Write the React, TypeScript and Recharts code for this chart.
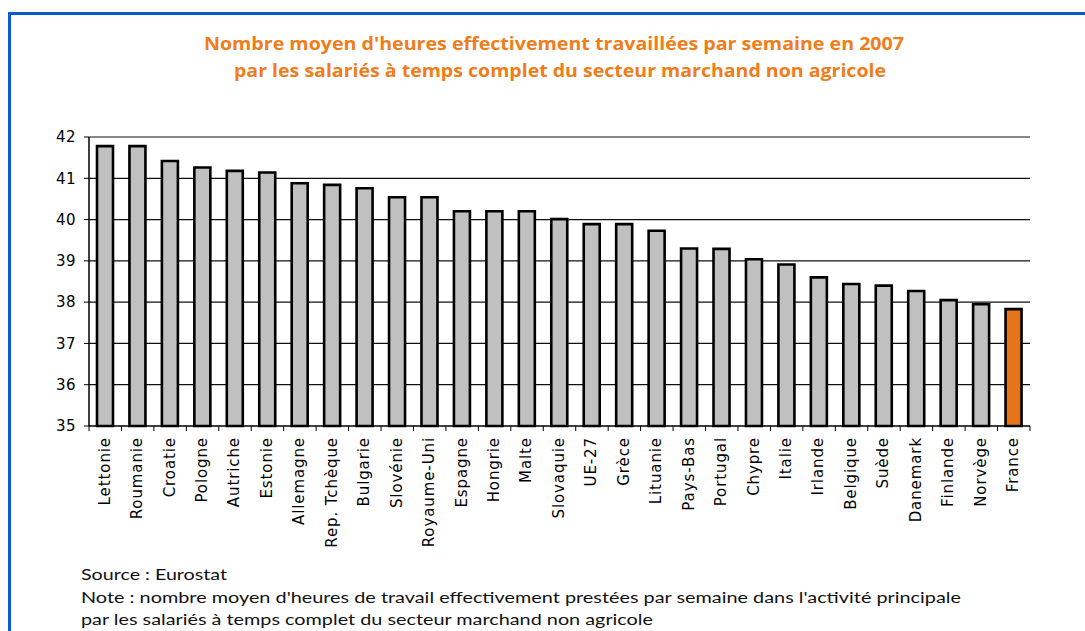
import { BarChart, Bar, XAxis, YAxis, CartesianGrid, Cell, ReferenceLine } from 'recharts'

const countries = [
  'Lettonie', 'Roumanie', 'Croatie', 'Pologne', 'Autriche', 'Estonie', 'Allemagne',
  'Rep. Tchèque', 'Bulgarie', 'Slovénie', 'Royaume-Uni', 'Espagne', 'Hongrie', 'Malte',
  'Slovaquie', 'UE-27', 'Grèce', 'Lituanie', 'Pays-Bas', 'Portugal', 'Chypre', 'Italie',
  'Irlande', 'Belgique', 'Suède', 'Danemark', 'Finlande', 'Norvège', 'France',
]
const hours = [
  41.78, 41.78, 41.42, 41.26, 41.18, 41.14, 40.88, 40.84, 40.76, 40.54, 40.54, 40.2,
  40.2, 40.2, 40.01, 39.89, 39.89, 39.73, 39.3, 39.29, 39.04, 38.91, 38.6, 38.44,
  38.4, 38.27, 38.05, 37.95, 37.83,
]
const yTicks = [35, 36, 37, 38, 39, 40, 41, 42]
const highlighted = 'France'

const titleLines = [
  "Nombre moyen d'heures effectivement travaillées par semaine en 2007",
  'par les salariés à temps complet du secteur marchand non agricole',
]
const footLines = [
  'Source : Eurostat',
  "Note : nombre moyen d'heures de travail effectivement prestées par semaine dans l'activité principale",
  'par les salariés à temps complet du secteur marchand non agricole',
]

const data = countries.map((country, i) => ({ country, hours: hours[i] }))

const W = 1085
const H = 631
const MARGIN = { top: 137, right: 55, bottom: 0, left: 0 }
const Y_AXIS_W = 89
const PLOT_BOTTOM = 426
const BAND = (W - MARGIN.left - MARGIN.right - Y_AXIS_W) / countries.length
const TICK_SIZE = 5
const TICK_MARGIN = 6
const LABEL_FONT = '"DejaVu Sans", Verdana, sans-serif'

// eslint-disable-next-line @typescript-eslint/no-explicit-any
function CountryTick({ x, y, payload, index }: any) {
  const axisY = y - TICK_SIZE - TICK_MARGIN
  const left = x - BAND / 2
  const right = x + BAND / 2
  return (
    <g>
      <line x1={left} x2={left} y1={axisY} y2={axisY + TICK_SIZE} stroke="#000" />
      {index === countries.length - 1 && (
        <line x1={right} x2={right} y1={axisY} y2={axisY + TICK_SIZE} stroke="#000" />
      )}
      <text
        x={x - 1}
        y={y}
        dy="0.36em"
        transform={`rotate(-90, ${x - 1}, ${y})`}
        textAnchor="end"
        fontSize={15}
        letterSpacing={0.9}
        fontFamily={LABEL_FONT}
        fill="#000"
      >
        {payload.value}
      </text>
    </g>
  )
}

export default function App() {
  return (
    <div style={{ position: 'absolute', left: 0, top: 0, width: W, height: H, background: '#fff' }}>
      <div style={{
        position: 'absolute', left: 8, top: 12, width: W, height: H,
        borderTop: '3px solid #0a5cc8', borderLeft: '3px solid #0a5cc8',
      }} />
      <BarChart width={W} height={H} data={data} margin={MARGIN} barCategoryGap={0}>
        <CartesianGrid
          yAxisId="left"
          vertical={false}
          horizontalValues={yTicks.filter(v => v > 35 && v < 42)}
          stroke="#111"
          strokeWidth={1.2}
        />
        <ReferenceLine yAxisId="left" y={42} stroke="#888" strokeWidth={2} />
        <XAxis
          dataKey="country"
          interval={0}
          height={H - PLOT_BOTTOM}
          tickLine={false}
          tickSize={TICK_SIZE}
          tickMargin={TICK_MARGIN}
          axisLine={{ stroke: '#000', strokeWidth: 1.5 }}
          tick={<CountryTick />}
        />
        <YAxis
          yAxisId="left"
          domain={[35, 42]}
          ticks={yTicks}
          interval={0}
          width={Y_AXIS_W}
          tickSize={TICK_SIZE}
          tickMargin={8}
          tickLine={{ stroke: '#000' }}
          axisLine={{ stroke: '#000', strokeWidth: 1.5 }}
          tick={{ fontSize: 15, fill: '#000', fontFamily: LABEL_FONT, letterSpacing: 0.5 }}
        />
        <YAxis
          yAxisId="right"
          orientation="right"
          domain={[35, 42]}
          width={0}
          tick={false}
          tickLine={false}
          axisLine={{ stroke: '#888', strokeWidth: 2 }}
        />
        <Bar
          yAxisId="left"
          dataKey="hours"
          barSize={16}
          fill="#c0c0c0"
          stroke="#000"
          strokeWidth={2.6}
          isAnimationActive={false}
        >
          {data.map(d => (
            <Cell key={d.country} fill={d.country === highlighted ? '#e8741a' : '#c0c0c0'} />
          ))}
        </Bar>
      </BarChart>
      <svg
        width={W}
        height={H}
        style={{ position: 'absolute', left: 0, top: 0, pointerEvents: 'none' }}
      >
        <text x={204} y={50} textLength={700} lengthAdjust="spacingAndGlyphs"
          fontFamily='"Open Sans", sans-serif' fontWeight={700} fontSize={17} fill="#ef7d1a">
          {titleLines[0]}
        </text>
        <text x={234} y={77} textLength={652} lengthAdjust="spacingAndGlyphs"
          fontFamily='"Open Sans", sans-serif' fontWeight={700} fontSize={17} fill="#ef7d1a">
          {titleLines[1]}
        </text>
        <text x={81} y={580} textLength={146} lengthAdjust="spacingAndGlyphs"
          fontFamily="Lato, sans-serif" fontSize={16} fill="#111">
          {footLines[0]}
        </text>
        <text x={81} y={603} textLength={880} lengthAdjust="spacingAndGlyphs"
          fontFamily="Lato, sans-serif" fontSize={16} fill="#111">
          {footLines[1]}
        </text>
        <text x={81} y={625} textLength={572} lengthAdjust="spacingAndGlyphs"
          fontFamily="Lato, sans-serif" fontSize={16} fill="#111">
          {footLines[2]}
        </text>
      </svg>
    </div>
  )
}
